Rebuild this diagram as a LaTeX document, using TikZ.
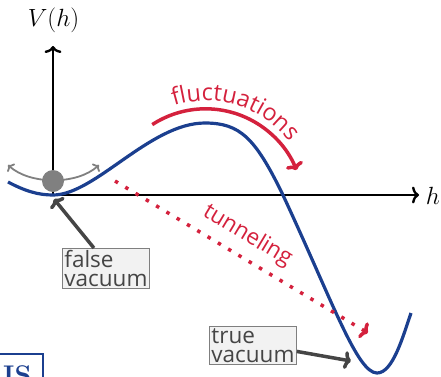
\documentclass[tikz,border=0pt]{standalone}
\usepackage{fontspec}
\usepackage{xcolor}
\usepackage{tikz}
\usetikzlibrary{arrows.meta,decorations.text}
\newfontfamily\diagfont{Open Sans}
\definecolor{potblue}{HTML}{1B3F8F}
\definecolor{flucred}{HTML}{D4213D}
\definecolor{ballgrey}{HTML}{808080}
\definecolor{labelgrey}{HTML}{454545}
\definecolor{boxfill}{HTML}{F2F2F2}
\definecolor{boxline}{HTML}{7F7F7F}
\newcommand\boxfont{\diagfont\fontsize{22.5}{19}\selectfont}
\newcommand\flucfont{\diagfont\fontsize{23.5}{23.5}\selectfont}

\begin{document}
\begin{tikzpicture}[
x=1pt, y=-1pt,
axis/.style={line width=2.4pt, -{To[length=7pt, width=17pt]}},
mathlabel/.style={font=\fontsize{25}{30}\selectfont, inner sep=0pt},
potential/.style={draw=potblue, line width=3.2pt},
ball/.style={circle, fill=ballgrey, minimum size=22pt, inner sep=0pt},
wobble/.style={draw=ballgrey, line width=1.8pt, {To[length=5pt, width=11pt]}-{To[length=5pt, width=11pt]}},
fluc/.style={draw=flucred, line width=3.5pt, -{To[length=7pt, width=18pt]}},
tunnel/.style={draw=flucred, line width=3.5pt, dash pattern=on 3.5pt off 8.5pt, -{To[length=7pt, width=18pt]}},
vacbox/.style={draw=boxline, fill=boxfill, text=labelgrey, align=left, font=\boxfont,
inner sep=2pt, line width=0.8pt},
pointer/.style={draw=labelgrey, line width=3.5pt, -{To[length=7pt, width=18pt]}}
]
\useasboundingbox (0,0) rectangle (441,376);

\draw[axis] (53,195) coordinate (origin) -- (419,195) coordinate (hend);
\draw[axis] (origin) -- (53,46) coordinate (vend);
\node[mathlabel] (hlabel) at (433,196) {$h$};
\node[mathlabel] (vlabel) at (53.5,20.5) {$V(h)$};

\draw[potential] (8,182) .. controls (25,191) and (38,195) .. (53,195)
.. controls (95,195) and (150,123) .. (205,123)
.. controls (240,123) and (255,138) .. (282,193)
.. controls (332,300) and (357,373) .. (377,373)
.. controls (393,373) and (403,336) .. (411,313);

\coordinate (wobbleleft) at (8,165);
\coordinate (wobbleright) at (99,165);
\draw[wobble] (wobbleleft) .. controls (30,185) and (77,185) .. (wobbleright);
\node[ball] (ball) at (53,181) {};

\coordinate (fluccenter) at (205.6,206.8);
\draw[fluc] (fluccenter) ++(-123:98) arc[start angle=-123, end angle=-22, radius=98];
\path[decorate, decoration={text along path, text align=center, text color=flucred,
text={|\flucfont|fluctuations}}]
(fluccenter) ++(-124:106) arc[start angle=-124, end angle=-21, radius=106];

\coordinate (tunstart) at (115,181);
\coordinate (tunend) at (368,333);
\draw[tunnel] (tunstart) -- node[sloped, above=5pt, pos=0.48, text=flucred, font=\boxfont] (tunlabel) {tunneling} (tunend);

\node[vacbox, anchor=north west] (falsevac) at (62,248) {false\\vacuum};
\node[vacbox, anchor=north west] (truevac) at (209,326) {true\\vacuum};
\coordinate (falsemin) at (54,199);
\coordinate (truemin) at (351,361);
\draw[pointer] ([xshift=-12pt]falsevac.north) -- (falsemin);
\draw[pointer] ([yshift=-6pt]truevac.east) -- (truemin);

\draw[potblue, line width=2pt] (-60,354) rectangle (43,400);
\node[anchor=base west, text=potblue, inner sep=0pt, font=\fontsize{27}{27}\selectfont\bfseries] (logo) at (3,384) {IS};
\end{tikzpicture}
\end{document}
